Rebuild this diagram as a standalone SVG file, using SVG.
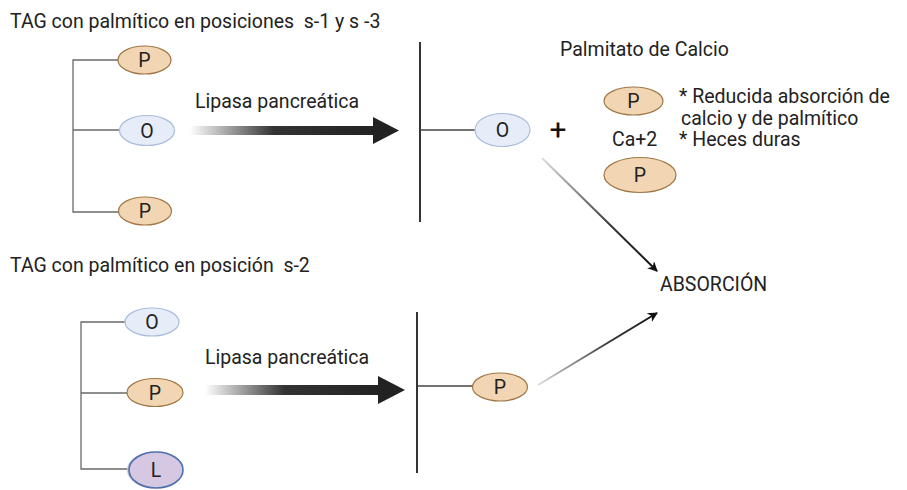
<svg xmlns="http://www.w3.org/2000/svg" width="907" height="490" viewBox="0 0 907 490">
<defs>
<style>
text{font-family:Roboto,"Liberation Sans",sans-serif;fill:#222}
.lbl{font-size:19.5px}
.node{font-size:19.5px;text-anchor:middle}
.p{fill:#f2d6b3;stroke:#a07848;stroke-width:1.2}
.o{fill:#e6edf8;stroke:#a9bcdc;stroke-width:1.2}
.l{fill:#d6c8e2;stroke:#4d6fae;stroke-width:1.6}
.br{fill:none;stroke:#6a6a6a;stroke-width:1.3}
.vl{fill:none;stroke:#333;stroke-width:2}
.hl{fill:none;stroke:#444;stroke-width:1.6}
</style>
<linearGradient id="gA" x1="0" y1="0" x2="1" y2="0">
<stop offset="0" stop-color="#fff"/>
<stop offset="0.45" stop-color="#333"/>
<stop offset="1" stop-color="#222"/>
</linearGradient>
<linearGradient id="gD1" gradientUnits="userSpaceOnUse" x1="542" y1="158" x2="658" y2="272">
<stop offset="0" stop-color="#ddd"/>
<stop offset="0.6" stop-color="#333"/>
<stop offset="1" stop-color="#111"/>
</linearGradient>
<linearGradient id="gD2" gradientUnits="userSpaceOnUse" x1="538" y1="385" x2="658" y2="313">
<stop offset="0" stop-color="#ddd"/>
<stop offset="0.6" stop-color="#333"/>
<stop offset="1" stop-color="#111"/>
</linearGradient>
<marker id="ah" markerWidth="10" markerHeight="10" refX="9" refY="5" orient="auto" markerUnits="userSpaceOnUse">
<path d="M0,0 L10,5 L0,10 L3,5 z" fill="#111"/>
</marker>
</defs>
<rect width="907" height="490" fill="#fff"/>

<text class="lbl" x="10" y="28" xml:space="preserve">TAG con palmítico en posiciones  s-1 y s -3</text>
<text class="lbl" x="10" y="272" xml:space="preserve">TAG con palmítico en posición  s-2</text>

<g id="connectors">
<path class="br" d="M119,60 H73 V212 H119 M73,130 H120"/>
<path class="br" d="M125,322 H81 V469 H130 M81,393 H128"/>
<path class="vl" d="M420,42 V222"/>
<path class="hl" d="M420,130 H475"/>
<path class="vl" d="M417,312 V473"/>
<path class="hl" d="M417,386 H473"/>
<g id="arrow-top">
<rect x="190" y="126" width="186" height="9" fill="url(#gA)"/>
<path d="M373,117 L399,130.5 L373,144 z" fill="#222"/>
<text class="lbl" x="195" y="108">Lipasa pancreática</text>
</g>
<g id="arrow-bottom">
<rect x="205" y="385" width="176" height="10" fill="url(#gA)"/>
<path d="M378,376 L405,390 L378,404 z" fill="#222"/>
<text class="lbl" x="205" y="364">Lipasa pancreática</text>
</g>
<line x1="542" y1="158" x2="657" y2="271" stroke="url(#gD1)" stroke-width="2" marker-end="url(#ah)"/>
<line x1="538" y1="385" x2="657" y2="313" stroke="url(#gD2)" stroke-width="2" marker-end="url(#ah)"/>
</g>

<g id="n-p1"><ellipse class="p" cx="144.5" cy="60" rx="26.5" ry="14"/><text class="node" x="144.5" y="67">P</text></g>
<g id="n-o1"><ellipse class="o" cx="147" cy="130.5" rx="27.5" ry="15"/><text class="node" x="147" y="137.5">O</text></g>
<g id="n-p2"><ellipse class="p" cx="145" cy="211" rx="26.5" ry="14"/><text class="node" x="145" y="218">P</text></g>

<g id="n-o2"><ellipse class="o" cx="502.5" cy="130" rx="27.5" ry="16.5"/><text class="node" x="502.5" y="137">O</text></g>
<g id="plus"><text x="558" y="140" style="font-size:30px;text-anchor:middle;fill:#111">+</text></g>

<g id="n-calcio">
<text class="lbl" x="560" y="56">Palmitato de Calcio</text>
<ellipse class="p" cx="633.5" cy="101" rx="29.5" ry="14"/><text class="node" x="633.5" y="108">P</text>
<text class="lbl" x="612" y="146">Ca+2</text>
<ellipse class="p" cx="640" cy="175" rx="36" ry="17.5"/><text class="node" x="640" y="182">P</text>
<text class="lbl" x="679" y="103">* Reducida absorción de</text>
<text class="lbl" x="681" y="125">calcio y de palmítico</text>
<text class="lbl" x="679" y="146">* Heces duras</text>
</g>

<g id="n-absorcion"><text x="660" y="291" style="font-size:19.5px">ABSORCIÓN</text></g>

<g id="n-o3"><ellipse class="o" cx="152" cy="322" rx="27" ry="14"/><text class="node" x="152" y="329">O</text></g>
<g id="n-p3"><ellipse class="p" cx="155" cy="392.5" rx="28" ry="14"/><text class="node" x="155" y="399.5">P</text></g>
<g id="n-l"><ellipse cx="153" cy="470" rx="26" ry="18" fill="#c9c9d6"/><ellipse class="l" cx="156" cy="470" rx="27" ry="18"/><text class="node" x="156" y="477">L</text></g>

<g id="n-p4"><ellipse class="p" cx="500" cy="387" rx="27.5" ry="14"/><text class="node" x="500" y="394">P</text></g>
</svg>
